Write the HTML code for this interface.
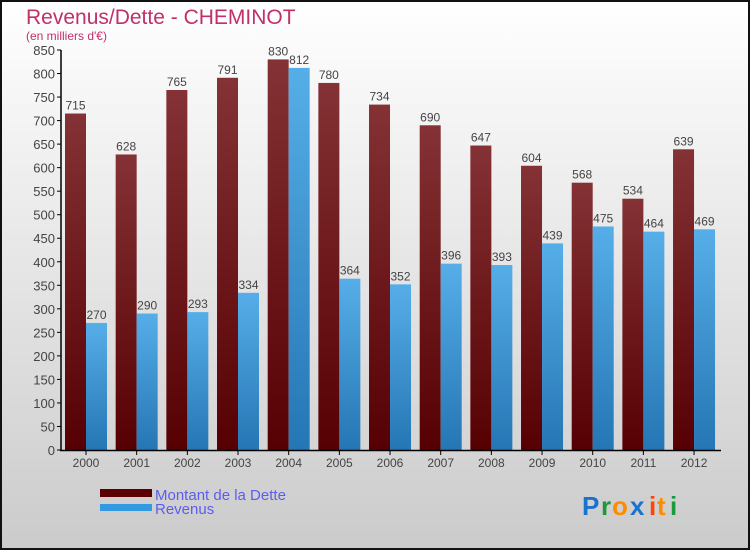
<!DOCTYPE html>
<html><head><meta charset="utf-8"><style>
body{margin:0}
#c{width:750px;height:550px;position:relative;overflow:hidden}
svg text{font-family:"Liberation Sans",sans-serif}
</style></head><body>
<div id="c">
<svg id="s" width="750" height="550" xmlns="http://www.w3.org/2000/svg">
<defs>
<linearGradient id="bg" x1="0" y1="0" x2="0" y2="1"><stop offset="0" stop-color="#ffffff"/><stop offset="1" stop-color="#cbcbcb"/></linearGradient>
<linearGradient id="gd" x1="0" y1="0" x2="0" y2="1"><stop offset="0" stop-color="#843235"/><stop offset="1" stop-color="#560003"/></linearGradient>
<linearGradient id="gb" x1="0" y1="0" x2="0" y2="1"><stop offset="0" stop-color="#56aee8"/><stop offset="1" stop-color="#2576b4"/></linearGradient>
</defs>
<rect x="1" y="1" width="748" height="548" fill="url(#bg)" stroke="#111" stroke-width="2"/>
<text x="26" y="24" font-size="21" fill="#c0306a">Revenus/Dette - CHEMINOT</text>
<text x="26" y="40" font-size="12" fill="#c0306a">(en milliers d'€)</text>
<g id="grid"></g>
<g id="bars"></g>
<line x1="61" y1="50" x2="61" y2="451" stroke="#000" stroke-width="1.5"/>
<line x1="60" y1="450.5" x2="721" y2="450.5" stroke="#000" stroke-width="1.5"/>
<rect x="100" y="489" width="52" height="8" fill="#5a0003"/>
<text x="155" y="500" font-size="15" fill="#5c5cee">Montant de la Dette</text>
<rect x="100" y="504" width="52" height="7" fill="#3399e0"/>
<text x="155" y="514" font-size="15" fill="#5c5cee">Revenus</text>
<g font-size="26" font-weight="bold">
<text x="582" y="515" fill="#1a72d0">P</text><text x="601" y="515" fill="#1a9a3a">r</text><text x="612" y="515" fill="#ff8c00">o</text><text x="630" y="515" fill="#1a72d0">x</text><text x="649" y="515" fill="#ff4400">i</text><text x="657" y="515" fill="#ff8c00">t</text><text x="670" y="515" fill="#1a9a3a">i</text>
</g>
</svg>
</div>
<script>
const years=["2000","2001","2002","2003","2004","2005","2006","2007","2008","2009","2010","2011","2012"];
const dette=[715,628,765,791,830,780,734,690,647,604,568,534,639];
const revenus=[270,290,293,334,812,364,352,396,393,439,475,464,469];
const yTicks=[0,50,100,150,200,250,300,350,400,450,500,550,600,650,700,750,800,850];
const NS="http://www.w3.org/2000/svg";
const y=v=>450-v*400/850;
const xc=i=>86+i*50.67;
function mk(t,a,p){const e=document.createElementNS(NS,t);for(const k in a)e.setAttribute(k,a[k]);p.appendChild(e);return e;}
const g=document.getElementById('grid'),b=document.getElementById('bars');
yTicks.forEach(v=>{
 const l=mk('line',{x1:57,x2:61,y1:y(v),y2:y(v),stroke:'#000'},g);
 
 
 const t=mk('text',{x:55,y:y(v)+5,'text-anchor':'end','font-size':13,fill:'#444'},g);t.textContent=v;
 
 
});
years.forEach((yr,i)=>{
 const c=xc(i);
 const r1=mk('rect',{x:c-21,y:y(dette[i]),width:21,height:450-y(dette[i]),fill:'url(#gd)'},b);
 
 
 const r2=mk('rect',{x:c,y:y(revenus[i]),width:21,height:450-y(revenus[i]),fill:'url(#gb)'},b);
 
 
 const l1=mk('text',{x:c-10.5,y:y(dette[i])-4,'text-anchor':'middle','font-size':12,fill:'#444'},b);l1.textContent=dette[i];
 
 
 const l2=mk('text',{x:c+10.5,y:y(revenus[i])-4,'text-anchor':'middle','font-size':12,fill:'#444'},b);l2.textContent=revenus[i];
 
 
 const tk=mk('line',{x1:c,x2:c,y1:450,y2:455,stroke:'#000'},b);
 
 
 const xl=mk('text',{x:c,y:467,'text-anchor':'middle','font-size':12,fill:'#444'},b);xl.textContent=yr;
 
 
});
</script>
</body></html>
